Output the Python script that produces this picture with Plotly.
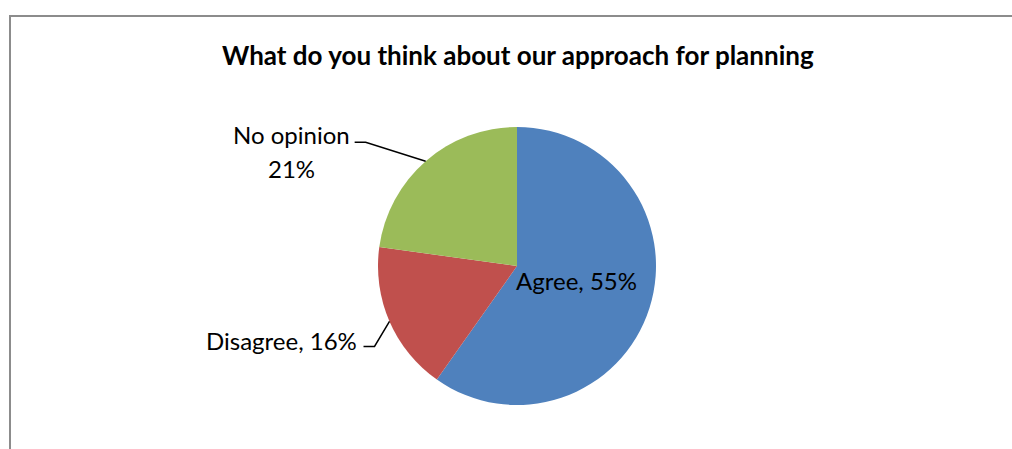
import math
import plotly.graph_objects as go

# ---- data ----
categories = ["Agree", "Disagree", "No opinion"]
values = [55, 16, 21]
label_texts = ["Agree, 55%", "Disagree, 16%", "No opinion<br>21%"]
colors = ["#4F81BD", "#C0504D", "#9BBB59"]
title_text = "What do you think about our approach for planning"

W, H = 1012, 449
FONT = "Lato, 'Open Sans', sans-serif"

# pie geometry (pixels)
cx, cy, R = 517, 266, 139

fig = go.Figure(go.Pie(
    labels=categories, values=values, sort=False, direction="clockwise",
    rotation=0, marker=dict(colors=colors, line=dict(width=0)),
    textinfo="none", hoverinfo="label+percent", showlegend=False,
    domain=dict(x=[(cx - R) / W, (cx + R) / W], y=[1 - (cy + R) / H, 1 - (cy - R) / H]),
))

def px(x): return x / W
def py(y): return 1 - y / H

total = sum(values)
cum = 0
mid_angles = []
for v in values:
    mid_angles.append((cum + v / 2) / total * 2 * math.pi)
    cum += v

shapes = [dict(type="rect", xref="paper", yref="paper",
               x0=px(10), y0=py(470), x1=px(1040), y1=py(16),
               line=dict(color="#8C8C8C", width=2), fillcolor="rgba(0,0,0,0)", layer="below")]
annotations = [dict(text="<b>" + title_text + "</b>", x=px(518), y=py(55), xref="paper", yref="paper",
                    xanchor="center", yanchor="middle",
                    showarrow=False, font=dict(family=FONT, size=26, color="#000"))]

LBL = dict(family=FONT, size=24, color="#000")

# Agree label (inside)
a = mid_angles[0]
annotations.append(dict(text=label_texts[0], xref="paper", yref="paper",
                        x=px(cx + 0.43 * R * math.sin(a) + 3), y=py(cy - 0.43 * R * math.cos(a) - 4),
                        xanchor="center", yanchor="middle", showarrow=False, font=LBL))

# outside labels with leader lines
outside = {1: dict(elbow=(-15, 25), hor=-11),
           2: dict(elbow=(-60, -19), hor=-11)}
for i, o in outside.items():
    a = mid_angles[i]
    ex, ey = cx + R * math.sin(a), cy - R * math.cos(a)
    bx, by = ex + o["elbow"][0], ey + o["elbow"][1]
    hx = bx + o["hor"]
    shapes.append(dict(type="path", xref="paper", yref="paper",
                       path=f"M {px(ex)},{py(ey)} L {px(bx)},{py(by)} L {px(hx)},{py(by)}",
                       line=dict(color="#000", width=1.5)))
    if i == 1:
        annotations.append(dict(text=label_texts[i], xref="paper", yref="paper",
                                x=px(hx - 5), y=py(by - 6), xanchor="right", yanchor="middle",
                                showarrow=False, font=LBL))
    else:
        lines = label_texts[i].split("<br>")
        for k, t in enumerate(lines):
            annotations.append(dict(text=t, xref="paper", yref="paper",
                                    x=px(291), y=py(by - 8 + 34 * k), xanchor="center", yanchor="middle",
                                    showarrow=False, font=LBL))

fig.update_layout(width=W, height=H, margin=dict(l=0, r=0, t=0, b=0),
                  paper_bgcolor="white", plot_bgcolor="white",
                  shapes=shapes, annotations=annotations)
fig.write_html("out.html", config={"displayModeBar": False},
               post_script="document.body.style.margin='0';document.body.style.overflow='hidden';")
